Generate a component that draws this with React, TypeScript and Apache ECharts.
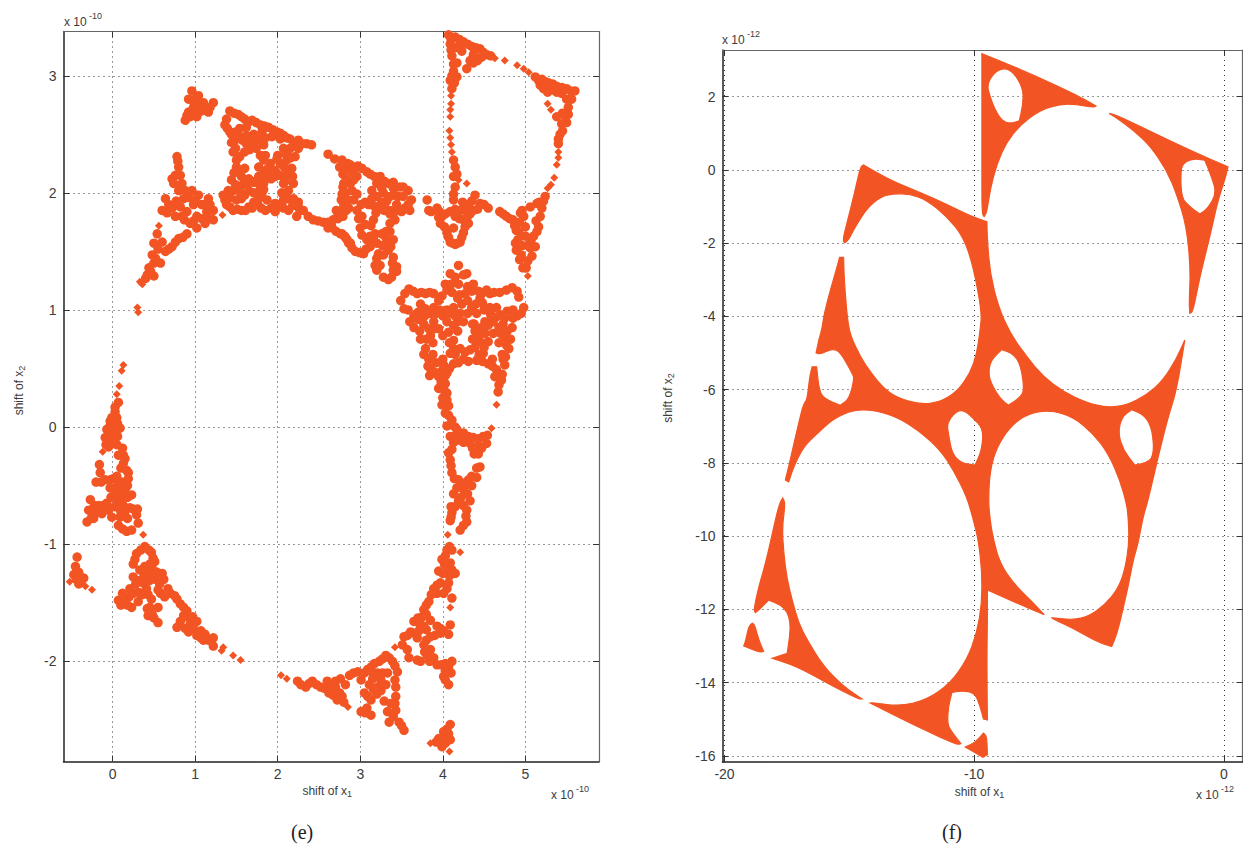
import React, { useEffect, useRef } from "react";
import * as echarts from "echarts";

type P = [number, number];
const ORANGE = "#f25523";
const xTicksE = [0, 1, 2, 3, 4, 5];
const yTicksE = [-2, -1, 0, 1, 2, 3];
const xTicksF = [-20, -10, 0];
const yTicksF = [-16, -14, -12, -10, -8, -6, -4, -2, 0, 2];

// Panel (e): clusters of points (units of 1e-10)
const eTopBlob: P[] = [[.96,2.87],[1.0,2.80],[1.04,2.83],[1.10,2.77],[1.22,2.77],[1.16,2.69],[1.04,2.70],[.98,2.73],[.92,2.69],[.88,2.62],[.94,2.65],[1.02,2.65],[.92,2.80],[1.06,2.75],[1.18,2.73],[.98,2.78],[1.08,2.70],[.90,2.66],[1.12,2.73],[1.0,2.66]];
const eLeftBlob: P[] = [[.78,2.31],[.80,2.22],[.76,2.15],[.72,2.12],[.84,2.08],[.88,2.02],[.96,2.02],[1.04,1.98],[1.16,1.95],[.64,1.95],[.60,1.85],[.72,1.87],[.82,1.88],[.90,1.84],[.98,1.90],[1.08,1.90],[1.22,1.85],[1.22,1.77],[1.12,1.74],[1.02,1.70],[.94,1.74],[.84,1.80],[.76,1.80],[1.02,1.80],[1.14,1.84],[.90,1.65],[.80,1.61],[.72,1.54],[.64,1.50],[.54,1.65],[.50,1.57],[.60,1.58],[.48,1.47],[.58,1.40],[.50,1.40],[.44,1.36],[.50,1.29],[.40,1.27],[.68,1.90],[.77,1.93],[.86,1.95],[.92,1.96],[1.0,1.94],[1.12,1.90],[1.18,1.90],[.66,1.83],[.87,1.77],[.98,1.76],[1.08,1.78],[1.17,1.78],[.82,2.15],[.79,2.27],[.74,2.08],[.92,1.98],[.80,2.02],[.85,1.62],[.76,1.58],[.68,1.52],[.55,1.52],[.52,1.44],[.46,1.33],[.42,1.30]];
const eNetworkA: P[] = [[1.42,2.70],[1.52,2.67],[1.60,2.63],[1.69,2.62],[1.79,2.58],[1.89,2.56],[1.99,2.52],[2.07,2.49],[2.15,2.46],[2.25,2.45],[2.35,2.42],[2.41,2.41],[1.36,2.58],[1.38,2.63],[1.42,2.52],[1.54,2.55],[1.44,2.50],[1.62,2.56],[1.44,2.43],[1.46,2.35],[1.52,2.49],[1.62,2.49],[1.71,2.50],[1.81,2.52],[1.62,2.42],[1.71,2.43],[1.79,2.46],[1.83,2.41],[2.03,2.46],[2.07,2.38],[1.85,2.32],[1.99,2.29],[2.15,2.38],[2.25,2.38],[2.21,2.31],[2.11,2.28],[2.17,2.21],[2.11,2.15],[2.19,2.08],[2.13,2.02],[2.19,1.95],[2.25,1.88],[2.07,1.94],[2.13,1.85],[1.54,2.31],[1.60,2.35],[1.50,2.22],[1.60,2.21],[1.56,2.14],[1.65,2.12],[1.44,2.11],[1.46,2.02],[1.79,2.32],[1.77,2.22],[1.83,2.18],[1.77,2.14],[1.91,2.25],[2.03,2.25],[1.97,2.19],[2.03,2.15],[1.85,2.14],[2.07,2.08],[1.83,2.08],[1.81,2.0],[1.87,1.94],[2.05,2.0],[1.97,1.91],[1.34,1.98],[1.38,1.90],[1.46,1.85],[1.56,1.85],[1.65,1.88],[1.76,1.90],[1.85,1.85],[1.97,1.84],[2.07,1.87],[1.40,2.02],[1.54,2.04],[1.63,2.07],[1.71,2.09],[1.71,2.0],[1.60,1.98],[1.50,1.94],[1.71,1.92],[1.79,2.05],[1.47,2.68],[1.56,2.65],[1.64,2.60],[1.74,2.60],[1.84,2.57],[1.94,2.54],[2.03,2.51],[2.11,2.47],[2.2,2.42],[2.30,2.42],[1.39,2.55],[1.49,2.52],[1.48,2.45],[1.49,2.38],[1.57,2.45],[1.66,2.46],[1.75,2.45],[1.85,2.47],[1.93,2.48],[1.5,2.28],[1.47,2.17],[1.54,2.18],[1.49,2.07],[1.59,2.08],[1.66,2.37],[1.74,2.38],[1.73,2.10],[1.83,2.28],[1.87,2.2],[1.93,2.17],[1.97,2.14],[2.0,2.32],[2.1,2.33],[2.16,2.3],[2.12,2.2],[2.08,2.22],[2.09,2.1],[2.18,2.14],[2.12,1.95],[2.18,1.89],[2.02,1.89],[1.92,1.87],[1.8,1.87],[1.69,1.87],[1.61,1.85],[1.51,1.86],[1.42,1.88],[1.36,1.94],[1.42,1.96],[1.56,1.95],[1.65,2.02],[1.55,2.0],[1.76,2.0],[1.77,1.95],[1.83,2.03],[1.92,2.12]];
const eNetworkB: P[] = [[2.31,1.85],[2.43,1.77],[2.55,1.75],[2.67,1.77],[2.79,1.80],[2.61,1.70],[2.71,1.67],[2.81,1.63],[2.88,1.57],[2.23,1.80],[2.25,1.92],[2.61,2.33],[2.69,2.29],[2.75,2.22],[2.79,2.16],[2.79,2.05],[2.77,1.94],[2.71,1.85],[2.85,2.25],[2.88,2.08],[2.85,1.94],[2.83,1.85],[2.78,2.28],[2.88,2.24],[2.80,2.08],[2.92,2.11],[2.78,1.99],[2.92,1.94],[3.02,2.21],[3.12,2.16],[2.96,2.14],[3.14,2.02],[3.06,1.92],[2.96,1.99],[3.24,2.14],[3.34,2.08],[3.26,2.04],[3.48,2.05],[3.58,2.02],[3.40,2.04],[3.62,1.94],[3.54,1.87],[3.44,1.90],[3.36,1.97],[3.26,1.92],[3.16,1.89],[3.36,1.85],[3.28,2.0],[3.46,1.97],[3.14,1.95],[3.60,1.85],[2.27,1.85],[2.37,1.80],[2.49,1.76],[2.61,1.75],[2.73,1.78],[2.66,1.70],[2.76,1.65],[2.84,1.60],[2.73,1.82],[2.82,2.20],[2.83,2.12],[2.82,2.0],[2.8,1.90],[2.65,1.72],[2.9,2.18],[2.9,2.02],[2.93,2.2],[2.97,2.23],[3.08,2.18],[3.17,2.14],[3.29,2.1],[3.40,2.09],[3.52,2.05],[3.2,2.08],[3.1,1.9],[3.2,1.88],[3.3,1.87],[3.42,1.84],[3.5,1.84],[3.58,1.9],[3.32,1.93],[3.42,1.98],[3.52,1.97],[3.2,1.97],[3.01,1.9]];
const eNetworkC: P[] = [[2.78,1.85],[2.86,1.87],[2.96,1.85],[3.02,1.80],[3.06,1.73],[3.02,1.64],[2.78,1.65],[2.86,1.57],[2.94,1.50],[3.04,1.48],[3.12,1.63],[3.12,1.54],[3.18,1.65],[3.22,1.87],[3.16,1.77],[3.26,1.65],[3.36,1.82],[3.36,1.74],[3.42,1.77],[3.36,1.67],[3.30,1.63],[3.2,1.57],[3.40,1.60],[3.22,1.48],[3.34,1.51],[3.40,1.45],[3.24,1.38],[3.44,1.37],[3.2,1.34],[3.28,1.28],[3.38,1.28],[3.44,1.33],[2.82,1.62],[2.9,1.53],[2.99,1.49],[3.07,1.52],[3.08,1.6],[3.16,1.6],[3.19,1.83],[3.29,1.85],[3.13,1.72],[3.31,1.67],[3.32,1.58],[3.27,1.55],[3.37,1.54],[3.28,1.47],[3.39,1.40],[3.2,1.44],[3.18,1.38],[3.4,1.34],[3.34,1.26],[2.98,1.78],[3.0,1.7]];
const eRingLeft: P[] = [[4.07,3.35],[4.15,3.33],[4.25,3.29],[4.35,3.25],[4.45,3.23],[4.53,3.18],[4.09,3.27],[4.15,3.24],[4.11,3.17],[4.17,3.11],[4.13,3.04],[4.09,2.96],[4.17,2.99],[4.11,2.89],[4.37,3.18],[4.47,3.16],[4.37,3.11],[4.29,3.06],[4.23,3.21],[4.13,2.28],[4.15,2.22],[4.17,2.16],[4.13,2.14],[4.15,2.05],[4.13,1.99],[4.13,1.94],[4.1,3.31],[4.2,3.31],[4.3,3.27],[4.4,3.24],[4.49,3.2],[4.58,3.17],[4.1,3.22],[4.13,3.1],[4.11,3.0],[4.14,2.94],[4.42,3.13],[4.33,3.13],[4.2,3.26]];
const eRingRight: P[] = [[5.12,2.99],[5.20,2.97],[5.28,2.94],[5.38,2.91],[5.5,2.89],[5.60,2.87],[5.18,2.92],[5.27,2.86],[5.38,2.86],[5.56,2.80],[5.52,2.73],[5.48,2.66],[5.38,2.65],[5.44,2.59],[5.42,2.50],[5.40,2.42],[5.24,1.97],[5.16,2.96],[5.24,2.95],[5.33,2.93],[5.44,2.90],[5.55,2.87],[5.22,2.89],[5.32,2.88],[5.44,2.85],[5.5,2.8],[5.52,2.67],[5.45,2.68],[5.5,2.6],[5.45,2.53],[5.4,2.46]];
const eBelowRing: P[] = [[3.81,1.94],[3.83,1.85],[3.93,1.87],[3.99,1.80],[4.09,1.84],[4.21,1.85],[4.31,1.90],[4.39,1.98],[4.45,1.91],[4.55,1.87],[4.37,1.85],[4.25,1.77],[3.97,1.74],[4.05,1.66],[4.09,1.58],[4.15,1.56],[4.21,1.58],[4.25,1.66],[4.31,1.74],[4.15,1.80],[4.13,1.70],[4.69,1.84],[4.77,1.80],[4.85,1.77],[4.89,1.68],[4.91,1.60],[4.89,1.51],[4.93,1.43],[4.97,1.36],[5.06,1.88],[5.14,1.91],[5.18,1.80],[5.16,1.71],[5.10,1.63],[5.12,1.54],[5.08,1.46],[5.0,1.63],[4.98,1.80],[5,1.71],[4.96,1.85],[3.86,1.84],[3.96,1.84],[4.03,1.82],[4.15,1.86],[4.27,1.85],[4.35,1.93],[4.42,1.86],[4.5,1.9],[4.33,1.82],[4.24,1.92],[4.2,1.78],[3.95,1.79],[4.3,1.8],[4.02,1.71],[4.27,1.71],[4.07,1.62],[4.23,1.62],[4.12,1.57],[4.18,1.57],[4.73,1.82],[4.81,1.78],[4.87,1.72],[4.92,1.67],[4.88,1.57],[4.96,1.55],[5.03,1.55],[5.07,1.6],[5.06,1.53],[4.95,1.47],[5.03,1.42],[5.01,1.36],[4.93,1.75],[4.94,1.83],[5.2,1.87],[5.17,1.92],[5.22,1.93],[5.13,1.76],[5.14,1.67]];
const eStar: P[] = [[4.19,1.38],[4.09,1.31],[4.29,1.31],[4.03,1.22],[4.19,1.22],[4.37,1.22],[4.43,1.16],[4.11,1.15],[4.27,1.14],[3.59,1.18],[3.49,1.08],[3.53,1.01],[3.65,.95],[3.69,1.14],[3.79,1.14],[3.89,1.14],[3.95,1.08],[3.79,1.01],[3.89,1.02],[3.73,1.05],[4.84,1.19],[4.92,1.11],[4.98,1.02],[4.90,.95],[4.69,1.15],[4.57,1.14],[4.47,1.14],[4.78,.99],[4.65,1.02],[4.57,1.02],[4.13,1.02],[4.23,1.05],[4.35,1.02],[4.09,.97],[4.41,.97],[4.21,.97],[3.65,.85],[3.77,.88],[3.89,.90],[3.95,.84],[4.07,.81],[4.13,.87],[4.13,.74],[3.73,.75],[3.85,.78],[3.79,.67],[3.83,.58],[3.85,.5],[3.95,.43],[4.39,.82],[4.51,.90],[4.61,.90],[4.73,.88],[4.84,.85],[4.51,.80],[4.45,.73],[4.61,.80],[4.75,.77],[4.8,.67],[4.73,.58],[4.75,.53],[4.15,1.28],[4.25,1.3],[4.1,1.22],[4.3,1.2],[4.05,1.17],[4.35,1.16],[4.2,1.13],[3.54,1.14],[3.64,1.16],[3.74,1.15],[3.84,1.15],[3.58,1.0],[3.7,.98],[3.78,.95],[3.85,.97],[3.92,.97],[3.96,1.0],[3.99,1.12],[3.7,.92],[3.6,.9],[4.0,.95],[4.9,1.16],[4.77,1.17],[4.62,1.15],[4.53,1.17],[4.45,1.1],[4.48,1.06],[4.5,1.0],[4.58,.96],[4.7,.96],[4.85,1.0],[4.95,.97],[4.85,.93],[4.75,.93],[4.65,.94],[4.05,1.0],[4.18,1.1],[4.3,1.08],[4.4,1.05],[4.15,.95],[4.3,.97],[4.05,.9],[4.38,.88],[3.72,.82],[3.83,.84],[3.8,.75],[3.9,.84],[4.0,.78],[4.08,.72],[3.77,.62],[3.82,.52],[3.9,.47],[4.47,.85],[4.44,.78],[4.55,.87],[4.68,.85],[4.7,.8],[4.78,.82],[4.82,.75],[4.77,.7],[4.72,.62],[4.76,.6],[3.84,.44],[3.88,.72],[3.88,.62],[3.92,.55],[4.0,.58],[4.6,.58],[4.68,.72],[4.55,.73],[4.5,.68],[4.13,.67],[4.36,.75],[4.18,.82],[4.36,.88],[4.25,.9],[4.18,.9]];
const eCurl: P[] = [[4.09,.63],[4.21,.67],[4.39,.68],[4.49,.63],[4.13,.54],[4.25,.58],[4.41,.57],[4.55,.54],[4.01,.53],[4.05,.46],[4.65,.49],[4.71,.40],[4.63,.43],[4.67,.30],[4.03,.37],[3.95,.33],[4.05,.29],[3.99,.19],[4.07,.18],[4.03,.12],[4.11,.06],[4.15,0],[4.05,.01],[4.25,-.05],[4.37,-.09],[4.49,-.08],[4.15,.62],[4.27,.64],[4.33,.66],[4.44,.62],[4.08,.5],[4.19,.55],[4.31,.56],[4.48,.56],[4.6,.52],[4.66,.44],[4.72,.45],[4.68,.36],[3.99,.48],[4.03,.44],[3.98,.38],[4.02,.31],[4.0,.25],[4.05,.23],[4.07,.1],[4.1,.02],[4.17,-.02],[4.22,-.07],[4.31,-.08],[4.43,-.1],[4.54,-.07]];
const eDrop: P[] = [[4.09,-.08],[4.19,-.11],[4.11,-.19],[4.33,-.14],[4.43,-.16],[4.43,-.23],[4.53,-.14],[4.09,-.28],[4.11,-.39],[4.41,-.35],[4.41,-.43],[4.19,-.45],[4.31,-.45],[4.25,-.53],[4.13,-.57],[4.35,-.50],[4.33,-.63],[4.19,-.63],[4.11,-.73],[4.09,-.80],[4.29,-.71],[4.29,-.81],[4.21,-.88],[4.13,-.13],[4.25,-.13],[4.14,-.08],[4.36,-.18],[4.47,-.18],[4.38,-.23],[4.07,-.22],[4.1,-.33],[4.14,-.44],[4.45,-.34],[4.25,-.48],[4.35,-.42],[4.17,-.52],[4.3,-.57],[4.22,-.6],[4.25,-.67],[4.15,-.68],[4.1,-.68],[4.28,-.76],[4.1,-.77],[4.25,-.84]];
const eWestUpper: P[] = [[.07,.21],[.03,.13],[.05,.08],[-.03,.05],[.09,-.01],[-.07,-.02],[-.09,-.09],[.01,-.05],[-.05,-.17],[.05,-.15],[.12,-.18],[.07,-.24],[.15,-.27],[.10,-.35],[.17,-.37],[.19,-.44],[-.16,-.32],[-.15,-.39],[-.2,-.47],[-.09,-.45],[.01,-.44],[.11,-.47],[-.03,-.52],[.15,-.54],[.23,-.58],[.03,-.57],[-.27,-.62],[-.17,-.67],[-.07,-.65],[-.29,-.71],[-.21,-.74],[-.31,-.81],[-.23,-.78],[-.13,-.74],[-.05,-.71],[.03,-.68],[.13,-.67],[.21,-.69],[.09,-.77],[-.01,-.77],[.07,-.84],[.29,-.75],[.31,-.82],[.17,-.89],[.03,.17],[-.01,.08],[-.04,0],[.02,.0],[.06,.03],[-.03,-.08],[.06,-.08],[-.08,-.15],[.0,-.14],[.13,-.24],[.13,-.31],[.19,-.39],[.18,-.5],[.06,-.5],[.1,-.55],[-.14,-.47],[-.03,-.45],[.05,-.42],[.18,-.6],[.06,-.63],[.12,-.6],[-.02,-.6],[-.12,-.67],[-.22,-.67],[-.26,-.78],[-.17,-.72],[-.08,-.7],[.25,-.7],[.15,-.72],[.18,-.78],[.12,-.87],[.23,-.88],[.3,-.7],[.1,-.72]];
const eWestLower: P[] = [[.39,-1.02],[.29,-1.08],[.47,-1.07],[.51,-1.15],[.25,-1.17],[.39,-1.19],[.49,-1.22],[.6,-1.25],[.25,-1.28],[.33,-1.31],[.45,-1.31],[.57,-1.34],[.21,-1.38],[.31,-1.41],[.41,-1.38],[.55,-1.39],[.67,-1.38],[.75,-1.44],[.07,-1.48],[.15,-1.47],[.23,-1.54],[.31,-1.49],[.47,-1.47],[.63,-1.45],[.45,-1.54],[.55,-1.54],[.43,-1.61],[.55,-1.67],[.82,-1.51],[.90,-1.57],[.86,-1.61],[.78,-1.71],[.94,-1.68],[1.02,-1.66],[.92,-1.75],[1.02,-1.78],[1.12,-1.77],[1.10,-1.82],[1.22,-1.80],[1.22,-1.87],[.34,-1.05],[.44,-1.05],[.27,-1.13],[.49,-1.12],[.45,-1.17],[.33,-1.22],[.38,-1.26],[.44,-1.25],[.54,-1.24],[.52,-1.3],[.62,-1.3],[.28,-1.34],[.37,-1.33],[.25,-1.42],[.12,-1.42],[.2,-1.45],[.36,-1.43],[.43,-1.43],[.58,-1.42],[.7,-1.42],[.1,-1.52],[.18,-1.52],[.42,-1.55],[.48,-1.6],[.5,-1.63],[.78,-1.47],[.86,-1.54],[.82,-1.66],[.9,-1.62],[.97,-1.62],[.88,-1.72],[.98,-1.72],[1.07,-1.74],[1.07,-1.8],[1.16,-1.82]];
const eFarLeft: P[] = [[-.43,-1.11],[-.45,-1.19],[-.41,-1.24],[-.35,-1.29],[-.47,-1.26],[-.41,-1.34],[-.44,-1.3],[-.38,-1.31]];
const eBottom: P[] = [[2.24,-2.17],[2.34,-2.22],[2.42,-2.17],[2.52,-2.22],[2.60,-2.17],[2.62,-2.27],[2.72,-2.33],[2.78,-2.30],[2.70,-2.22],[2.76,-2.15],[2.87,-2.12],[2.82,-2.20],[2.97,-2.09],[3.05,-2.10],[3.13,-2.05],[3.01,-2.16],[3.11,-2.20],[3.05,-2.27],[3.13,-2.33],[3.01,-2.43],[3.13,-2.46],[3.23,-2.0],[3.21,-2.10],[3.31,-1.95],[3.39,-2.0],[3.45,-2.09],[3.33,-2.10],[3.21,-2.22],[3.31,-2.20],[3.43,-2.22],[3.43,-2.30],[3.29,-2.34],[3.33,-2.43],[3.43,-2.42],[3.35,-2.52],[3.47,-2.52],[3.53,-2.59],[2.28,-2.2],[2.38,-2.19],[2.47,-2.2],[2.56,-2.23],[2.65,-2.2],[2.67,-2.29],[2.75,-2.27],[2.8,-2.35],[2.7,-2.17],[2.92,-2.1],[3.09,-2.07],[3.15,-2.1],[3.17,-2.02],[3.27,-1.98],[3.35,-1.97],[3.42,-2.04],[3.27,-2.1],[3.15,-2.15],[3.16,-2.24],[3.25,-2.16],[3.25,-2.25],[3.42,-2.16],[3.09,-2.3],[3.08,-2.4],[3.06,-2.44],[3.2,-2.28],[3.42,-2.36],[3.37,-2.36],[3.4,-2.47],[3.5,-2.55]];
const eSouthEast: P[] = [[3.53,-1.79],[3.61,-1.75],[3.51,-1.86],[3.59,-1.97],[3.57,-1.90],[3.69,-1.80],[3.77,-1.86],[3.81,-1.95],[3.69,-1.99],[3.89,-1.97],[3.93,-2.03],[4.03,-2.02],[4.11,-2.0],[4.01,-2.13],[4.07,-2.20],[3.85,-1.79],[3.97,-1.76],[4.07,-1.77],[4.09,-1.69],[3.65,-1.66],[3.77,-1.70],[3.75,-1.62],[3.85,-1.65],[3.97,-1.72],[3.77,-1.56],[3.83,-1.49],[3.89,-1.38],[3.97,-1.33],[4.01,-1.42],[4.11,-1.46],[4.07,-1.33],[4.15,-1.25],[3.95,-1.23],[4.05,-1.23],[3.99,-1.13],[4.05,-1.05],[4.11,-1.05],[4.09,-1.16],[3.57,-1.78],[3.65,-1.76],[3.71,-1.74],[3.72,-1.68],[3.8,-1.73],[3.9,-1.78],[3.93,-1.7],[4.01,-1.74],[3.8,-1.6],[3.7,-1.63],[3.8,-1.52],[3.8,-1.82],[3.85,-1.9],[3.78,-1.92],[3.73,-2.0],[3.84,-2.0],[3.98,-2.03],[4.07,-2.05],[4.03,-2.08],[4.03,-2.16],[4.1,-2.1],[3.93,-1.35],[3.86,-1.43],[3.93,-1.42],[4.05,-1.38],[4.08,-1.27],[4.0,-1.25],[4.11,-1.22],[4.02,-1.17],[4.03,-1.1],[4.08,-1.02]];
const eTipBottom: P[] = [[4.07,-2.62],[4.01,-2.60],[3.95,-2.66],[3.99,-2.73],[4.09,-2.54],[4.09,-2.67],[4.04,-2.65],[3.92,-2.69],[4.05,-2.58],[4.03,-2.7]];
const eDense: P[] = [...eTopBlob, ...eLeftBlob, ...eNetworkA, ...eNetworkB, ...eNetworkC, ...eRingLeft, ...eRingRight, ...eBelowRing, ...eStar, ...eCurl, ...eDrop, ...eWestUpper, ...eWestLower, ...eFarLeft, ...eBottom, ...eSouthEast, ...eTipBottom];
// isolated small dots along the thin arcs
const eSparse: P[] = [[4.10,2.83],[4.10,2.76],[4.09,2.71],[4.09,2.65],[4.08,2.53],[4.09,2.47],[4.10,2.41],[4.11,2.35],[4.19,2.11],[4.29,2.08],[4.63,3.15],[4.75,3.13],[4.90,3.09],[4.98,3.06],[5.04,3.03],[5.40,2.35],[5.40,2.30],[5.38,2.24],[5.35,2.13],[5.31,2.07],[5.27,2.04],[5.27,2.76],[5.31,2.71],[1.33,1.81],[.56,1.72],[.36,1.22],[.33,1.24],[.30,1.02],[.31,.98],[.13,.53],[.11,.48],[.08,.35],[.05,.28],[-.12,-.21],[.37,-.92],[5.03,1.29],[4.65,.19],[4.59,-.01],[4.06,-.92],[1.34,-1.88],[1.32,-1.91],[1.46,-1.95],[1.55,-1.99],[-.52,-1.32],[-.33,-1.36],[-.25,-1.39],[2.04,-2.12],[2.11,-2.15],[2.85,-2.39],[3.42,-1.88],[4.09,-1.54],[4.21,-1.07],[3.85,-2.70],[4.08,-2.77]];

// Panel (f): outlines of the filled regions (units of 1e-12)
const fTopLeft: P[] = [[-9.69,3.17],[-7.89,2.67],[-5.89,2.04],[-5.12,1.74],[-5.23,1.70],[-5.89,1.79],[-6.56,1.79],[-7.36,1.63],[-8.16,1.22],[-8.69,.76],[-9.09,.17],[-9.36,-.55],[-9.49,-1.15],[-9.6,-1.28],[-9.69,-1.19],[-9.69,.17],[-9.69,1.08],[-9.69,2.17]];
const fTopLeftHole: P[] = [[-8.83,2.79],[-8.43,2.67],[-8.03,2.22],[-8.05,1.76],[-8.19,1.34],[-8.56,1.26],[-8.89,1.34],[-9.16,1.63],[-9.36,1.99],[-9.49,2.31],[-9.23,2.63]];
const fTopRight: P[] = [[-4.59,1.54],[-4.29,1.49],[-2.56,.92],[-1.23,.49],[.17,.08],[.04,-.28],[-.23,-.83],[-.56,-1.83],[-.96,-2.92],[-1.23,-3.87],[-1.36,-3.92],[-1.39,-3.65],[-1.33,-2.74],[-1.49,-1.55],[-1.89,-.65],[-2.29,-.01],[-2.96,.67],[-3.63,1.08],[-4.16,1.35]];
const fTopRightHole: P[] = [[-1.23,.31],[-.76,.26],[-.49,-.19],[-.29,-.63],[-.63,-1.05],[-.96,-1.21],[-1.36,-1.01],[-1.69,-.78],[-1.73,-.1],[-1.65,.17]];
const fBody: P[] = [[-14.43,.13],[-13.49,-.24],[-12.56,-.51],[-11.63,-.78],[-10.69,-1.08],[-10.16,-1.26],[-9.49,-1.42],[-9.47,-1.92],[-9.36,-2.83],[-9.03,-3.74],[-8.56,-4.47],[-7.89,-5.11],[-7.23,-5.65],[-6.43,-6.06],[-5.49,-6.36],[-4.69,-6.49],[-3.89,-6.43],[-3.09,-6.15],[-2.43,-5.75],[-1.89,-5.15],[-1.56,-4.65],[-1.89,-6.02],[-2.23,-6.75],[-2.63,-7.84],[-3.03,-9.02],[-3.23,-9.47],[-3.43,-10.2],[-3.63,-10.65],[-3.83,-11.38],[-4.09,-12.15],[-4.27,-12.65],[-4.49,-13.02],[-5.09,-12.88],[-6.03,-12.52],[-6.83,-12.27],[-6.88,-12.23],[-6.03,-12.29],[-5.43,-12.2],[-4.76,-11.88],[-4.23,-11.43],[-3.96,-10.93],[-3.79,-10.2],[-3.83,-9.47],[-3.89,-9.13],[-4.16,-8.47],[-4.63,-7.75],[-5.23,-7.2],[-6.03,-6.75],[-6.96,-6.56],[-7.89,-6.67],[-8.56,-7.02],[-9.09,-7.56],[-9.36,-8.2],[-9.43,-9.02],[-9.36,-9.56],[-9.23,-10.1],[-8.96,-10.75],[-8.43,-11.29],[-7.63,-11.83],[-7.19,-12.15],[-8.43,-11.79],[-9.47,-11.47],[-9.47,-12.29],[-9.49,-13.38],[-9.47,-15.02],[-9.63,-15.0],[-9.76,-14.65],[-9.96,-14.29],[-10.43,-14.22],[-10.89,-14.27],[-11.03,-14.65],[-11.07,-15.11],[-10.96,-15.29],[-10.53,-15.67],[-10.69,-15.7],[-12.29,-15.2],[-13.49,-14.79],[-14.16,-14.56],[-14.03,-14.55],[-12.96,-14.65],[-11.89,-14.47],[-10.96,-14.02],[-10.29,-13.38],[-9.89,-12.65],[-9.69,-11.84],[-9.69,-10.93],[-9.83,-10.11],[-10.03,-9.56],[-10.29,-8.93],[-10.83,-8.2],[-11.36,-7.65],[-12.16,-7.15],[-13.09,-6.75],[-14.03,-6.56],[-14.83,-6.56],[-15.63,-6.79],[-16.29,-7.2],[-16.83,-7.56],[-17.23,-8.11],[-17.43,-8.52],[-17.56,-8.47],[-17.43,-8.11],[-17.03,-6.93],[-16.83,-6.38],[-16.69,-6.29],[-16.59,-5.65],[-16.49,-5.38],[-16.31,-5.38],[-16.21,-6.02],[-16.0,-6.25],[-15.36,-6.43],[-15.0,-6.25],[-14.8,-5.7],[-14.88,-5.56],[-15.36,-4.97],[-15.69,-4.88],[-16.16,-5.04],[-16.33,-5],[-16.23,-4.65],[-16.09,-4.34],[-16.03,-4.01],[-15.83,-3.46],[-15.49,-2.65],[-15.39,-2.39],[-15.23,-2.39],[-15.2,-3.01],[-15.09,-4.01],[-14.96,-4.52],[-14.56,-5.11],[-14.16,-5.52],[-13.63,-5.97],[-13.09,-6.22],[-12.16,-6.41],[-11.36,-6.34],[-10.69,-6.06],[-10.16,-5.56],[-9.89,-5.02],[-9.76,-4.38],[-9.69,-3.9],[-10.03,-2.65],[-10.43,-1.83],[-11.09,-1.28],[-11.89,-.83],[-12.56,-.66],[-13.23,-.65],[-13.76,-.74],[-14.29,-1.05],[-14.76,-1.55],[-15.03,-1.92],[-15.19,-1.99],[-15.27,-1.92],[-15.03,-1.28],[-14.76,-.55],[-14.56,.08]];
const fHoleUpper: P[] = [[-8.89,-4.91],[-8.43,-5.02],[-8.13,-5.34],[-7.99,-6.02],[-8.16,-6.22],[-8.63,-6.43],[-8.96,-6.25],[-9.29,-5.88],[-9.43,-5.56],[-9.33,-5.2]];
const fHoleLower: P[] = [[-10.43,-6.55],[-10.09,-6.75],[-9.63,-7.06],[-9.69,-7.65],[-9.96,-8.06],[-10.49,-8.02],[-10.89,-7.75],[-11.03,-7.2],[-11.09,-6.93],[-10.76,-6.61]];
const fHoleRight: P[] = [[-3.69,-6.55],[-3.16,-6.7],[-2.85,-7.11],[-2.8,-7.84],[-3.16,-8.02],[-3.56,-8.06],[-4.03,-7.65],[-4.23,-7.2],[-4.09,-6.75]];
const fLowerLeft: P[] = [[-17.67,-8.96],[-17.56,-9.1],[-17.69,-9.74],[-17.63,-10.47],[-17.49,-11.2],[-17.29,-11.75],[-17.03,-12.38],[-16.69,-12.84],[-16.03,-13.56],[-15.23,-14.11],[-14.49,-14.45],[-14.63,-14.45],[-15.89,-14.02],[-17.09,-13.56],[-18.09,-13.34],[-17.49,-13.2],[-17.39,-12.75],[-17.36,-12.38],[-17.49,-12.06],[-17.76,-11.88],[-18.23,-11.75],[-18.63,-12.02],[-18.76,-12.09],[-18.83,-12.02],[-18.63,-11.38],[-18.43,-10.93],[-18.23,-10.38],[-17.96,-9.55],[-17.79,-9.1]];
const fSmallTriangle: P[] = [[-18.89,-12.38],[-18.79,-12.43],[-18.63,-12.84],[-18.43,-13.15],[-18.63,-13.17],[-19.23,-13.0],[-19.16,-12.88],[-19.03,-12.47]];
const fBottomTip: P[] = [[-9.63,-15.38],[-9.49,-15.47],[-9.47,-15.97],[-9.65,-16.04],[-10.36,-15.76],[-9.96,-15.64]];
const fPieces: { outer: P[]; holes: P[][] }[] = [
  { outer: fTopLeft, holes: [fTopLeftHole] },
  { outer: fTopRight, holes: [fTopRightHole] },
  { outer: fBody, holes: [fHoleUpper, fHoleLower, fHoleRight] },
  { outer: fLowerLeft, holes: [] },
  { outer: fSmallTriangle, holes: [] },
  { outer: fBottomTip, holes: [] },
];

const area = (r: number[][]) => {
  let s = 0;
  r.forEach((p, i) => { const q = r[(i + 1) % r.length]; s += p[0] * q[1] - q[0] * p[1]; });
  return s;
};
const f1 = (v: number) => v.toFixed(1);
// Closed outline: gentle corners are rounded, sharp tips stay sharp.
const ringPath = (r: number[][], wantPositive: boolean) => {
  const pts = (area(r) > 0) === wantPositive ? r : [...r].reverse();
  const n = pts.length;
  const mid = (a: number[], b: number[]) => [(a[0] + b[0]) / 2, (a[1] + b[1]) / 2];
  const start = mid(pts[n - 1], pts[0]);
  let d = `M${f1(start[0])} ${f1(start[1])}`;
  for (let i = 0; i < n; i++) {
    const a = pts[(i + n - 1) % n], b = pts[i], c = pts[(i + 1) % n];
    const u = [b[0] - a[0], b[1] - a[1]], v = [c[0] - b[0], c[1] - b[1]];
    const turn = Math.abs(Math.atan2(u[0] * v[1] - u[1] * v[0], u[0] * v[0] + u[1] * v[1]));
    const m = mid(b, c);
    d += turn < 1.0
      ? `Q${f1(b[0])} ${f1(b[1])} ${f1(m[0])} ${f1(m[1])}`
      : `L${f1(b[0])} ${f1(b[1])}L${f1(m[0])} ${f1(m[1])}`;
  }
  return d + "Z";
};

const FONT = "'Liberation Sans', Arial, sans-serif";
const LABEL = "#3c3c3c";

const makeAxis = (dim: "x" | "y", pos: string, min: number, max: number, ticks: number[], gridIndex: number, primary: boolean, name?: any): any => ({
  type: "value",
  gridIndex,
  position: pos,
  min,
  max,
  ...(name || {}),
  axisLine: { show: true, onZero: false, lineStyle: { color: primary ? "#222" : "#666", width: primary ? 1.5 : 1.2 } },
  axisTick: { show: true, inside: true, length: 6, customValues: ticks, lineStyle: { color: "#333" } },
  axisLabel: {
    show: primary,
    color: LABEL,
    fontFamily: FONT,
    fontSize: 14,
    margin: dim === "x" ? 5 : 7,
    customValues: ticks,
    formatter: (v: number) => String(Math.round(v)),
  },
  splitLine: { show: primary, lineStyle: { color: "#333", type: [1, 4], width: 1 } },
});

const axisName = (text: string, sub: string, gap: number, padding: number[]) => ({
  name: `{a|${text}}{b|${sub}}`,
  nameLocation: "middle",
  nameGap: gap,
  nameTextStyle: {
    padding,
    rich: {
      a: { fontFamily: FONT, fontSize: 12, color: LABEL },
      b: { fontFamily: FONT, fontSize: 9, color: LABEL, verticalAlign: "bottom", padding: [6, 0, 0, 0] },
    },
  },
});

const sciLabel = (x: number, y: number, exp: string) => [
  { type: "text", left: x, top: y, style: { text: "x 10", fontFamily: FONT, fontSize: 12, fill: LABEL } },
  { type: "text", left: x + 25, top: y - 5, style: { text: exp, fontFamily: FONT, fontSize: 9, fill: LABEL } },
];

export default function App() {
  const ref = useRef<HTMLDivElement>(null);
  useEffect(() => {
    const chart = echarts.init(ref.current!, undefined, { renderer: "svg" });
    const eX = [-0.595, 5.892];
    const eY = [-2.856, 3.378];
    const fX = [-20.08, 0.75];
    const fY = [-16.17, 3.27];
    chart.setOption({
      animation: false,
      backgroundColor: "#fff",
      grid: [
        { left: 63.5, top: 31.5, width: 535.5, height: 730 },
        { left: 722.5, top: 50, width: 520, height: 712 },
      ],
      xAxis: [
        makeAxis("x", "bottom", eX[0], eX[1], xTicksE, 0, true, axisName("shift of x", "1", 22, [0, 8, 0, 0])),
        makeAxis("x", "top", eX[0], eX[1], xTicksE, 0, false),
        makeAxis("x", "bottom", fX[0], fX[1], xTicksF, 1, true, axisName("shift of x", "1", 22, [0, 6, 0, 0])),
        makeAxis("x", "top", fX[0], fX[1], xTicksF, 1, false),
      ],
      yAxis: [
        makeAxis("y", "left", eY[0], eY[1], yTicksE, 0, true, axisName("shift of x", "2", 37, [0, 0, 0, 12])),
        makeAxis("y", "right", eY[0], eY[1], yTicksE, 0, false),
        makeAxis("y", "left", fY[0], fY[1], yTicksF, 1, true, axisName("shift of x", "2", 47, [0, 0, 0, 16])),
        makeAxis("y", "right", fY[0], fY[1], yTicksF, 1, false),
      ],
      series: [
        {
          type: "scatter",
          xAxisIndex: 0,
          yAxisIndex: 0,
          symbol: "circle",
          symbolSize: 9.5,
          itemStyle: { color: ORANGE, opacity: 1 },
          data: eDense,
        },
        {
          type: "scatter",
          xAxisIndex: 0,
          yAxisIndex: 0,
          symbol: "diamond",
          symbolSize: 8,
          itemStyle: { color: ORANGE, opacity: 1 },
          data: eSparse,
        },
        {
          type: "custom",
          xAxisIndex: 2,
          yAxisIndex: 2,
          coordinateSystem: "cartesian2d",
          encode: { x: 0, y: 1 },
          data: fPieces.map((p, i) => [p.outer[0][0], p.outer[0][1], i]),
          renderItem: (_: any, api: any) => {
            const piece = fPieces[api.value(2)];
            const toPx = (r: P[]) => r.map((p) => api.coord(p));
            const pathData = ringPath(toPx(piece.outer), true) + piece.holes.map((h) => ringPath(toPx(h), false)).join("");
            return { type: "path", shape: { pathData }, style: { fill: ORANGE, stroke: ORANGE, lineWidth: 1.2 } };
          },
        },
      ],
      graphic: [
        ...sciLabel(64, 16, "-10"),
        ...sciLabel(551, 789, "-10"),
        ...sciLabel(722, 34, "-12"),
        ...sciLabel(1196, 789, "-12"),
        { type: "text", left: 291, top: 822, style: { text: "(e)", fontFamily: "'Liberation Serif', serif", fontSize: 20, fill: "#222" } },
        { type: "text", left: 942, top: 822, style: { text: "(f)", fontFamily: "'Liberation Serif', serif", fontSize: 20, fill: "#222" } },
      ],
    });
    return () => chart.dispose();
  }, []);
  return <div ref={ref} style={{ position: "fixed", left: 0, top: 0, width: 1243, height: 848 }} />;
}
